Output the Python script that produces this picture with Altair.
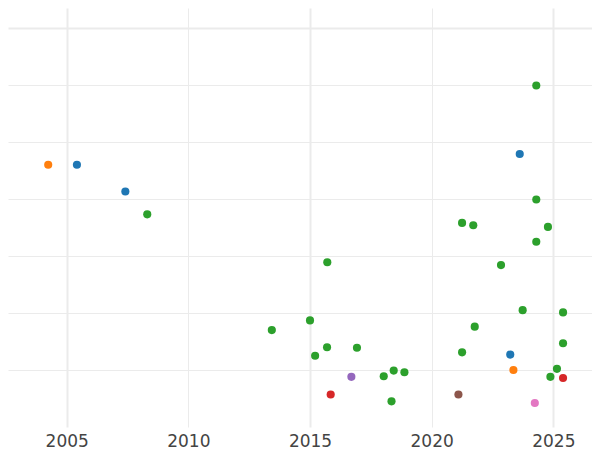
import altair as alt
import pandas as pd

years = [2004.24, 2005.42, 2007.41, 2008.31, 2024.30, 2023.62, 2024.30, 2021.25, 2021.71,
         2024.78, 2024.30, 2015.71, 2022.85, 2023.74, 2025.40, 2013.43, 2015.00, 2021.77,
         2025.40, 2015.70, 2016.93, 2015.21, 2021.25, 2023.23, 2023.36, 2025.15, 2018.44,
         2018.88, 2018.03, 2016.70, 2024.88, 2025.40, 2015.85, 2021.10, 2018.35, 2024.24]
values = [4.60, 4.60, 4.13, 3.73, 5.99, 4.79, 3.99, 3.58, 3.54,
          3.51, 3.25, 2.89, 2.84, 2.05, 2.01, 1.70, 1.87, 1.76,
          1.47, 1.40, 1.39, 1.25, 1.31, 1.27, 1.00, 1.02, 0.99,
          0.96, 0.89, 0.88, 0.88, 0.86, 0.57, 0.57, 0.45, 0.42]
groups = ["B", "A", "A", "C", "C", "A", "C", "C", "C",
          "C", "C", "C", "C", "C", "C", "C", "C", "C",
          "C", "C", "C", "C", "C", "A", "B", "C", "C",
          "C", "C", "E", "C", "D", "D", "F", "C", "G"]

group_names = ["A", "B", "C", "D", "E", "F", "G"]
group_colors = ["#1f77b4", "#ff7f0e", "#2ca02c", "#d62728", "#9467bd", "#8c564b", "#e377c2"]
x_ticks = [2005, 2010, 2015, 2020, 2025]
y_ticks = [1, 2, 3, 4, 5, 6, 7]

df = pd.DataFrame({"year": years, "value": values, "group": groups})

chart = alt.Chart(df).mark_circle(size=66, opacity=1).encode(
    x=alt.X("year:Q",
            scale=alt.Scale(domain=[2002.587, 2026.59], nice=False, zero=False),
            axis=alt.Axis(values=x_ticks, format="d", title=None, ticks=False, domain=False,
                          labelFontSize=17, labelColor="#444444", labelFont="DejaVu Sans",
                          labelPadding=6, gridColor="#ebebeb",
                          gridWidth={"condition": {"test": "datum.value % 10 == 5", "value": 2}, "value": 1})),
    y=alt.Y("value:Q",
            scale=alt.Scale(domain=[0, 7.35], nice=False, zero=False),
            axis=alt.Axis(values=y_ticks, title=None, ticks=False, domain=False, labels=False,
                          gridColor="#ebebeb",
                          gridWidth={"condition": {"test": "datum.value == 7", "value": 2}, "value": 1})),
    color=alt.Color("group:N", scale=alt.Scale(domain=group_names, range=group_colors), legend=None),
).properties(width=584, height=419, padding=0).configure_view(stroke=None)

chart.save("out.html", embed_options={"renderer": "svg", "actions": False})
